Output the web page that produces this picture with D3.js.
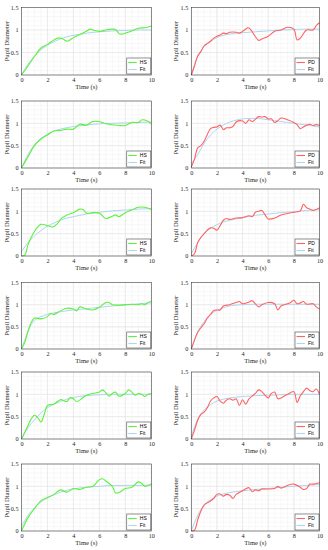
<!DOCTYPE html>
<html>
<head>
<meta charset="utf-8">
<script src="https://cdn.jsdelivr.net/npm/d3@7"></script>
<style>
  body { margin: 0; background: #fff; }
  .tick text { font-family: "Liberation Serif", "DejaVu Serif", serif; }
</style>
</head>
<body>
<div id="app"></div>
<script>
var width = 328,
  height = 550;

// time stamps of the hand-read samples
let hsT1 = [0, 0.5, 1, 1.5, 2, 2.5, 2.8, 3, 3.2, 3.5, 3.7, 4, 4.5, 5, 5.3, 5.5, 6, 6.5, 7, 7.3, 7.5, 7.8, 8, 8.5, 9, 9.5, 10];
let hsV1 = [0, 0.2, 0.41, 0.6, 0.68, 0.78, 0.82, 0.82, 0.8, 0.75, 0.77, 0.83, 0.9, 0.97, 1.02, 1.0, 0.97, 1.0, 1.02, 1.0, 0.92, 0.91, 0.93, 0.98, 1.04, 1.05, 1.09];
let fitT1 = [0, 0.5, 1, 1.5, 2, 2.5, 3, 3.5, 4, 5, 6, 7, 8, 9, 10];
let fitV1 = [0, 0.24, 0.42, 0.56, 0.66, 0.74, 0.8, 0.85, 0.88, 0.93, 0.96, 0.98, 0.99, 1.0, 1.0];

let pdT2 = [0, 0.25, 0.5, 0.75, 1, 1.25, 1.5, 1.75, 2, 2.25, 2.5, 2.75, 3, 3.5, 3.75, 4, 4.25, 4.4, 4.6, 5, 5.25, 5.5, 6, 6.5, 7, 7.5, 8, 8.25, 8.5, 9, 9.5, 9.75, 10];
let pdV2 = [0, 0.2, 0.42, 0.52, 0.65, 0.7, 0.75, 0.82, 0.86, 0.89, 0.93, 0.92, 0.95, 0.95, 0.93, 0.97, 1.02, 1.05, 1.02, 0.85, 0.77, 0.8, 0.86, 0.97, 1.0, 1.06, 1.02, 0.78, 0.82, 1.0, 1.0, 1.1, 1.16];
let fitT2 = [0, 0.5, 1, 1.5, 2, 2.5, 3, 4, 5, 6, 7, 8, 9, 10];
let fitV2 = [0, 0.42, 0.63, 0.75, 0.83, 0.88, 0.91, 0.94, 0.96, 0.98, 1.0, 1.01, 1.02, 1.02];

let hsT3 = [0, 0.5, 1, 1.5, 2, 2.5, 3, 3.5, 4, 4.5, 5, 5.5, 6, 6.5, 7, 7.5, 8, 8.5, 9, 9.3, 9.7, 10];
let hsV3 = [0, 0.25, 0.5, 0.65, 0.74, 0.83, 0.84, 0.87, 0.87, 0.98, 0.96, 1.04, 1.04, 0.99, 0.97, 0.95, 0.95, 1.02, 1.02, 1.08, 1.05, 0.99];
let fitT3 = [0, 0.5, 1, 1.5, 2, 2.5, 3, 4, 5, 6, 7, 8, 9, 10];
let fitV3 = [0, 0.3, 0.52, 0.66, 0.76, 0.83, 0.87, 0.93, 0.96, 0.99, 1.0, 1.01, 1.02, 1.03];

let pdT4 = [0, 0.25, 0.5, 0.75, 1, 1.25, 1.5, 1.75, 2, 2.25, 2.5, 2.75, 3, 3.25, 3.5, 3.75, 4, 4.25, 4.5, 4.75, 5, 5.25, 5.5, 5.75, 6, 6.25, 6.5, 6.75, 7, 7.5, 8, 8.25, 8.5, 8.75, 9, 9.25, 9.5, 9.75, 10];
let pdV4 = [0.02, 0.2, 0.45, 0.5, 0.6, 0.75, 0.88, 0.91, 0.92, 0.96, 0.86, 0.9, 0.9, 0.93, 1.03, 1.06, 1.05, 1.0, 1.08, 1.04, 1.09, 1.15, 1.14, 1.15, 1.1, 1.1, 1.02, 1.06, 1.12, 1.08, 1.02, 0.97, 0.88, 0.92, 0.96, 0.98, 0.95, 0.97, 0.95];
let fitT4 = [0, 0.5, 1, 1.5, 2, 2.5, 3, 3.5, 4, 4.5, 5, 5.5, 6, 6.5, 7, 7.5, 8, 8.5, 9, 9.5, 10];
let fitV4 = [0.1, 0.3, 0.55, 0.74, 0.87, 0.96, 1.03, 1.07, 1.1, 1.11, 1.11, 1.1, 1.08, 1.06, 1.04, 1.02, 1.0, 0.98, 0.96, 0.94, 0.92];

let hsT5 = [0, 0.25, 0.5, 0.75, 1, 1.25, 1.5, 1.75, 2, 2.25, 2.4, 2.75, 3, 3.5, 4, 4.5, 4.75, 5, 5.5, 6, 6.5, 7, 7.25, 7.5, 8, 8.5, 9, 9.5, 10];
let hsV5 = [0, 0.02, 0.25, 0.42, 0.55, 0.65, 0.71, 0.7, 0.68, 0.66, 0.65, 0.72, 0.82, 0.92, 0.97, 1.05, 1.04, 0.96, 0.97, 0.96, 0.84, 0.89, 0.92, 0.88, 0.97, 1.03, 1.09, 1.09, 1.04];
let fitT5 = [0, 0.5, 1, 1.5, 2, 2.5, 3, 3.5, 4, 5, 6, 7, 8, 9, 10];
let fitV5 = [0.1, 0.3, 0.45, 0.57, 0.67, 0.74, 0.8, 0.85, 0.88, 0.94, 0.98, 1.01, 1.03, 1.05, 1.06];

let pdT6 = [0, 0.25, 0.5, 0.75, 1, 1.25, 1.5, 1.75, 2, 2.25, 2.5, 2.75, 3, 3.5, 4, 4.5, 4.75, 5, 5.25, 5.5, 6, 6.5, 7, 7.5, 8, 8.5, 8.75, 9, 9.25, 9.5, 10];
let pdV6 = [0, 0.05, 0.3, 0.42, 0.5, 0.58, 0.63, 0.62, 0.58, 0.68, 0.8, 0.84, 0.82, 0.85, 0.86, 0.9, 0.88, 0.98, 1.0, 1.02, 0.83, 0.85, 0.92, 0.95, 0.98, 1.01, 1.16, 1.08, 1.05, 1.02, 1.08];
let fitT6 = [0, 0.5, 1, 1.5, 2, 2.5, 3, 4, 5, 6, 7, 8, 9, 10];
let fitV6 = [0.05, 0.3, 0.5, 0.62, 0.7, 0.76, 0.8, 0.86, 0.91, 0.94, 0.97, 0.99, 1.02, 1.04];

let hsT7 = [0, 0.25, 0.5, 0.75, 1, 1.25, 1.5, 2, 2.25, 2.5, 3, 3.5, 4, 4.25, 4.5, 5, 5.5, 6, 6.5, 6.75, 7, 7.5, 8, 8.5, 9, 9.25, 9.5, 9.75, 10];
let hsV7 = [0, 0.15, 0.4, 0.6, 0.7, 0.69, 0.68, 0.73, 0.8, 0.78, 0.86, 0.92, 0.9, 0.86, 0.95, 0.9, 0.88, 0.94, 1.05, 1.05, 1.0, 0.99, 1.0, 1.01, 1.0, 1.02, 1.0, 1.05, 1.07];
let fitT7 = [0, 0.25, 0.5, 0.75, 1, 1.5, 2, 3, 4, 5, 6, 7, 8, 9, 10];
let fitV7 = [0, 0.2, 0.4, 0.55, 0.64, 0.73, 0.78, 0.84, 0.88, 0.91, 0.94, 0.97, 0.99, 1.02, 1.04];

let pdT8 = [0, 0.25, 0.5, 0.75, 1, 1.25, 1.5, 1.75, 2, 2.25, 2.5, 3, 3.5, 3.75, 4, 4.5, 4.75, 5, 5.25, 5.5, 6, 6.5, 6.75, 7, 7.5, 7.75, 8, 8.25, 8.5, 8.75, 9, 9.5, 9.75, 10];
let pdV8 = [0, 0.2, 0.38, 0.48, 0.57, 0.7, 0.78, 0.87, 0.88, 0.88, 0.97, 1.0, 1.05, 1.07, 1.02, 1.06, 1.09, 1.02, 0.95, 1.0, 1.05, 1.02, 0.88, 0.97, 1.02, 1.05, 1.1, 1.02, 1.04, 1.07, 1.01, 1.02, 0.95, 0.9];
let fitT8 = [0, 0.5, 1, 1.5, 2, 2.5, 3, 3.5, 4, 5, 6, 7, 8, 9, 10];
let fitV8 = [0, 0.38, 0.62, 0.78, 0.87, 0.93, 0.97, 0.99, 1.0, 1.01, 1.01, 1.01, 1.01, 1.01, 1.01];

let hsT9 = [0, 0.25, 0.5, 0.75, 1, 1.25, 1.5, 1.75, 2, 2.5, 3, 3.5, 3.75, 4, 4.25, 4.75, 5, 5.5, 6, 6.25, 6.5, 6.75, 7, 7.25, 7.5, 8, 8.25, 8.5, 8.75, 9, 9.25, 9.5, 9.75, 10];
let hsV9 = [0, 0.15, 0.3, 0.45, 0.53, 0.48, 0.38, 0.55, 0.75, 0.78, 0.88, 0.84, 0.93, 0.9, 0.84, 0.93, 0.98, 1.02, 1.05, 1.1, 1.03, 0.96, 1.02, 1.05, 0.96, 1.02, 1.1, 1.05, 0.98, 1.02, 1.0, 0.95, 1.0, 1.02];
let fitT9 = [0, 0.5, 1, 1.5, 2, 2.5, 3, 3.5, 4, 5, 6, 7, 8, 9, 10];
let fitV9 = [0, 0.25, 0.43, 0.58, 0.7, 0.78, 0.84, 0.89, 0.93, 0.97, 0.99, 1.0, 1.0, 1.0, 1.0];

let pdT10 = [0, 0.25, 0.5, 0.75, 1, 1.25, 1.5, 1.75, 2, 2.25, 2.5, 2.75, 3, 3.25, 3.5, 3.75, 4, 4.25, 4.5, 5, 5.25, 5.5, 6, 6.25, 6.5, 6.75, 7, 7.5, 8, 8.25, 8.5, 8.75, 9, 9.25, 9.5, 9.75, 10];
let pdV10 = [0, 0.2, 0.42, 0.55, 0.6, 0.7, 0.85, 0.92, 0.95, 0.85, 0.8, 0.87, 0.9, 0.87, 0.9, 0.75, 0.88, 0.78, 0.9, 1.02, 1.1, 1.06, 0.92, 1.02, 1.05, 0.9, 0.92, 1.0, 1.06, 0.82, 0.97, 1.06, 1.14, 1.08, 1.06, 1.12, 1.0];
let fitT10 = [0, 0.5, 1, 1.5, 2, 2.5, 3, 4, 5, 6, 7, 8, 9, 10];
let fitV10 = [0.05, 0.45, 0.65, 0.77, 0.85, 0.89, 0.92, 0.95, 0.97, 0.98, 0.99, 1.0, 1.0, 1.0];

let hsT11 = [0, 0.5, 1, 1.5, 2, 2.5, 3, 3.5, 4, 4.5, 5, 5.5, 6, 6.25, 6.5, 7, 7.25, 7.5, 8, 8.5, 9, 9.25, 9.5, 10];
let hsV11 = [0, 0.3, 0.5, 0.68, 0.75, 0.82, 0.92, 0.87, 0.95, 0.93, 0.98, 1.0, 1.15, 1.17, 1.12, 1.0, 0.85, 0.86, 0.95, 0.98, 1.1, 1.07, 1.0, 1.05];
let fitT11 = [0, 0.5, 1, 1.5, 2, 2.5, 3, 4, 5, 6, 7, 8, 9, 10];
let fitV11 = [0.1, 0.35, 0.52, 0.65, 0.74, 0.81, 0.87, 0.94, 0.98, 1.0, 1.02, 1.02, 1.02, 1.03];

let pdT12 = [0, 0.25, 0.5, 0.75, 1, 1.25, 1.5, 1.75, 2, 2.25, 2.5, 2.75, 3, 3.25, 3.5, 4, 4.5, 4.75, 5, 5.25, 5.5, 6, 6.5, 6.75, 7, 7.5, 8, 8.5, 8.75, 9, 9.25, 9.5, 10];
let pdV12 = [0, 0.02, 0.25, 0.45, 0.58, 0.63, 0.67, 0.73, 0.82, 0.83, 0.78, 0.82, 0.8, 0.73, 0.82, 0.9, 0.97, 0.88, 0.92, 0.9, 0.94, 0.94, 0.95, 1.0, 0.96, 1.02, 1.05, 0.98, 0.93, 0.95, 1.05, 1.05, 1.08];
let fitT12 = [0, 0.5, 1, 1.5, 2, 2.5, 3, 4, 5, 6, 7, 8, 9, 10];
let fitV12 = [0, 0.35, 0.58, 0.7, 0.78, 0.83, 0.86, 0.9, 0.93, 0.95, 0.98, 1.0, 1.02, 1.04];

let xTicks = [0, 2, 4, 6, 8, 10];
let yTicks = [0, 0.5, 1, 1.5];
let labels = ["HS", "PD"];
let lineColors = ["#5cf23c", "#ff6262"];
let fitColor = "#aed6f1";

// panel boxes: [left, right, top, bottom]
let rowTop = [7.5, 101, 189, 282.5, 372, 464];
let rowBottom = [75, 168, 256, 349, 439, 531];
let colLeft = [21.5, 191.3];
let colRight = [151.3, 319.5];

let panels = [
  [hsT1, hsV1, fitT1, fitV1],
  [pdT2, pdV2, fitT2, fitV2],
  [hsT3, hsV3, fitT3, fitV3],
  [pdT4, pdV4, fitT4, fitV4],
  [hsT5, hsV5, fitT5, fitV5],
  [pdT6, pdV6, fitT6, fitV6],
  [hsT7, hsV7, fitT7, fitV7],
  [pdT8, pdV8, fitT8, fitV8],
  [hsT9, hsV9, fitT9, fitV9],
  [pdT10, pdV10, fitT10, fitV10],
  [hsT11, hsV11, fitT11, fitV11],
  [pdT12, pdV12, fitT12, fitV12]
];

let svg = d3
  .select("#app")
  .append("svg")
  .attr("width", width)
  .attr("height", height)
  .attr("style", "background-color:#ffffff");

panels.forEach((p, i) => {
  let row = Math.floor(i / 2),
    col = i % 2;
  let x = d3.scaleLinear().domain([0, 10]).range([colLeft[col], colRight[col]]);
  let y = d3.scaleLinear().domain([0, 1.5]).range([rowBottom[row], rowTop[row]]);
  let g = svg.append("g");

  // minor grid
  g.append("g")
    .selectAll("line")
    .data(d3.range(0, 10.01, 0.5))
    .enter()
    .append("line")
    .attr("x1", (d) => x(d))
    .attr("x2", (d) => x(d))
    .attr("y1", y(0))
    .attr("y2", y(1.5))
    .style("stroke", "#f0f0f0")
    .style("stroke-width", 0.5);
  g.append("g")
    .selectAll("line")
    .data(d3.range(0, 1.51, 0.1))
    .enter()
    .append("line")
    .attr("y1", (d) => y(d))
    .attr("y2", (d) => y(d))
    .attr("x1", x(0))
    .attr("x2", x(10))
    .style("stroke", "#f0f0f0")
    .style("stroke-width", 0.5);

  // major grid
  g.append("g")
    .selectAll("line")
    .data(xTicks)
    .enter()
    .append("line")
    .attr("x1", (d) => x(d))
    .attr("x2", (d) => x(d))
    .attr("y1", y(0))
    .attr("y2", y(1.5))
    .style("stroke", "#e2e2e2")
    .style("stroke-width", 0.6);
  g.append("g")
    .selectAll("line")
    .data(yTicks)
    .enter()
    .append("line")
    .attr("y1", (d) => y(d))
    .attr("y2", (d) => y(d))
    .attr("x1", x(0))
    .attr("x2", x(10))
    .style("stroke", "#e2e2e2")
    .style("stroke-width", 0.6);

  // fit + measured
  let fit = p[2].map((t, k) => [t, p[3][k]]);
  let meas = p[0].map((t, k) => [t, p[1][k]]);
  g.append("path")
    .datum(fit)
    .attr("d", d3.line().curve(d3.curveMonotoneX).x((d) => x(d[0])).y((d) => y(d[1])))
    .attr("fill", "none")
    .attr("stroke", fitColor)
    .attr("stroke-width", 1);
  g.append("path")
    .datum(meas)
    .attr("d", d3.line().curve(d3.curveCatmullRom).x((d) => x(d[0])).y((d) => y(d[1])))
    .attr("fill", "none")
    .attr("stroke", lineColors[col])
    .attr("stroke-width", 1.1);

  // box
  g.append("rect")
    .attr("x", x(0))
    .attr("y", y(1.5))
    .attr("width", x(10) - x(0))
    .attr("height", y(0) - y(1.5))
    .attr("fill", "none")
    .attr("stroke", "#262626")
    .attr("stroke-width", 0.5);

  // axes
  let xAxis = g
    .append("g")
    .attr("transform", "translate(0," + y(0) + ")")
    .call(d3.axisBottom(x).tickValues(xTicks).tickSize(0).tickPadding(3).tickFormat(d3.format("d")));
  let yAxis = g
    .append("g")
    .attr("transform", "translate(" + x(0) + ",0)")
    .call(d3.axisLeft(y).tickValues(yTicks).tickSize(0).tickPadding(3).tickFormat((d) => String(d)));
  [xAxis, yAxis].forEach((a) => {
    a.select(".domain").remove();
    a.selectAll("text").attr("font-size", 6.2).attr("fill", "#262626");
  });

  g.append("text")
    .attr("x", (x(0) + x(10)) / 2)
    .attr("y", y(0) + 14)
    .attr("text-anchor", "middle")
    .attr("font-family", "Liberation Serif, serif")
    .attr("font-size", 6.6)
    .attr("fill", "#262626")
    .text("Time (s)");
  g.append("text")
    .attr("transform", "translate(" + (x(0) - 13) + "," + (y(0) + y(1.5)) / 2 + ") rotate(-90)")
    .attr("text-anchor", "middle")
    .attr("font-family", "Liberation Serif, serif")
    .attr("font-size", 6.6)
    .attr("fill", "#262626")
    .text("Pupil Diameter");

  // legend
  let lx = x(10) - 24.5,
    ly = y(0) - 17;
  let lg = g.append("g").attr("transform", "translate(" + lx + "," + ly + ")");
  lg.append("rect")
    .attr("width", 24)
    .attr("height", 16)
    .attr("fill", "#fff")
    .attr("stroke", "#262626")
    .attr("stroke-width", 0.5);
  [[labels[col], lineColors[col]], ["Fit", fitColor]].forEach((e, k) => {
    lg.append("line")
      .attr("x1", 1.5)
      .attr("x2", 10)
      .attr("y1", 4.5 + k * 7)
      .attr("y2", 4.5 + k * 7)
      .attr("stroke", e[1])
      .attr("stroke-width", 1.1);
    lg.append("text")
      .attr("x", 13)
      .attr("y", 6.3 + k * 7)
      .attr("font-family", "Liberation Sans, Arial, sans-serif")
      .attr("font-size", 5)
      .attr("fill", "#000")
      .text(e[0]);
  });
});
</script>
</body>
</html>
